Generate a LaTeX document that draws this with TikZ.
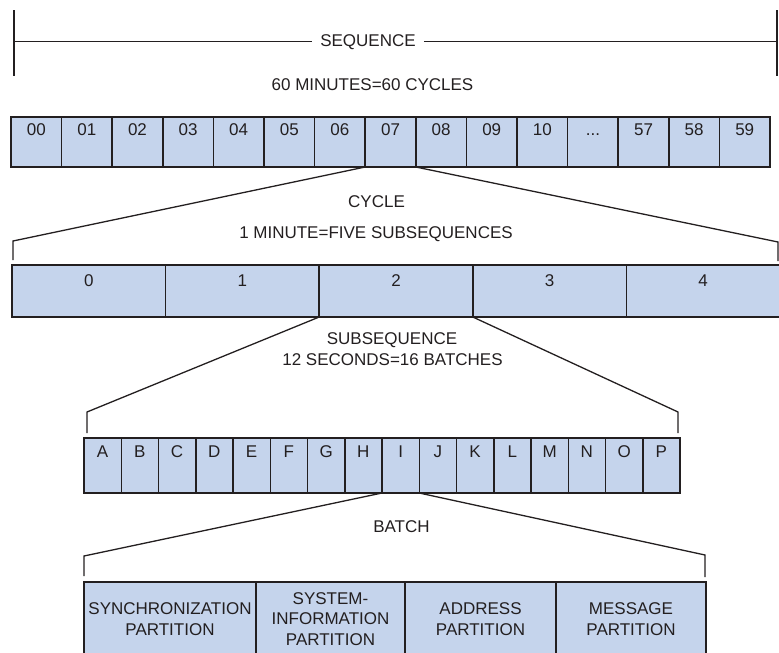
\documentclass[tikz,border=0pt]{standalone}
\usepackage{fontspec}
\setmainfont{Liberation Sans}

\definecolor{cellblue}{RGB}{197,212,236}
\definecolor{ink}{RGB}{35,31,32}

\newcommand{\skipdots}{...}

\tikzset{
  frames/.style={
    x=1pt, y=-1pt,
    every node/.style={text=ink, font=\fontsize{17}{20.5}\selectfont},
    cell/.style={
        draw=ink,
        fill=cellblue,
        line width=1.5pt,
        inner sep=0pt,
        outer sep=0pt,
        anchor=north west,
    },
    caption/.style={anchor=base, inner sep=0pt},
    line/.style={draw=ink, line width=1.3pt},
  }
}

\begin{document}
\begin{tikzpicture}[frames]
        \tikzstyle{minute}=[cell,minimum width=50.6pt,text height=18pt,text depth=32pt]
        \tikzstyle{subseq}=[cell,minimum width=153.6pt,text height=21pt,text depth=31pt]
        \tikzstyle{batch}=[cell,minimum width=37.25pt,text height=19pt,text depth=36pt]
        \tikzstyle{part}=[cell,minimum height=74pt,align=center]

        \useasboundingbox (0,0) rectangle (779,653);

        % sequence
        \node[caption,inner xsep=8pt] (seq) at (368,46.5) {SEQUENCE};
        \coordinate (topL) at (14,10);
        \coordinate (botL) at (14,76);
        \coordinate (topR) at (777,10);
        \coordinate (botR) at (777,76);
        \coordinate (midL) at (14,41.5);
        \coordinate (midR) at (777,41.5);
        \draw[line] (topL) -- (botL);
        \draw[line] (topR) -- (botR);
        \draw[line] (midL) -- (midL -| seq.west);
        \draw[line] (seq.east |- midR) -- (midR);
        \node[caption] (seqtext) at (372.5,90.5) {60 MINUTES=60 CYCLES};

        \foreach \lab [count=\i from 0] in {00,01,02,03,04,05,06,07,08,09,10,\skipdots,57,58,59}
            \node[minute] (s\i) at (11+50.6*\i,117) {\lab};

        % cycle
        \coordinate (cycL) at (13,241);
        \coordinate (cycLd) at (13,260);
        \coordinate (cycR) at (778,242);
        \coordinate (cycRd) at (778,261);
        \draw[line] (s7.south west) -- (cycL) -- (cycLd);
        \draw[line] (s7.south east) -- (cycR) -- (cycRd);
        \node[caption] (cyc) at (376.5,207) {CYCLE};
        \node[caption] (cyctext) at (376,238) {1 MINUTE=FIVE SUBSEQUENCES};

        \foreach \i in {0,...,4}
            \node[subseq] (c\i) at (12+153.6*\i,265) {\i};

        % subsequence
        \coordinate (subL) at (87,412);
        \coordinate (subLd) at (87,433);
        \coordinate (subR) at (678,412);
        \coordinate (subRd) at (678,433);
        \draw[line] (c2.south west) -- (subL) -- (subLd);
        \draw[line] (c2.south east) -- (subR) -- (subRd);
        \node[caption] (sub) at (392,344) {SUBSEQUENCE};
        \node[caption] (subtext) at (392.5,365) {12 SECONDS=16 BATCHES};

        \foreach \lab [count=\i from 0] in {A,...,P}
            \node[batch] (b\i) at (84+37.25*\i,438) {\lab};

        % batch
        \coordinate (batL) at (84,556);
        \coordinate (batLd) at (84,576);
        \coordinate (batR) at (705,555);
        \coordinate (batRd) at (705,577);
        \draw[line] (b8.south west) -- (batL) -- (batLd);
        \draw[line] (b8.south east) -- (batR) -- (batRd);
        \node[caption] (bat) at (401.5,532) {BATCH};

        \node[part,minimum width=172pt] (p1) at (84,582) {SYNCHRONIZATION\\PARTITION};
        \node[part,minimum width=149pt] (p2) at (256,582) {SYSTEM-\\INFORMATION\\PARTITION};
        \node[part,minimum width=151pt] (p3) at (405,582) {ADDRESS\\PARTITION};
        \node[part,minimum width=150pt] (p4) at (556,582) {MESSAGE\\PARTITION};
\end{tikzpicture}
\end{document}
